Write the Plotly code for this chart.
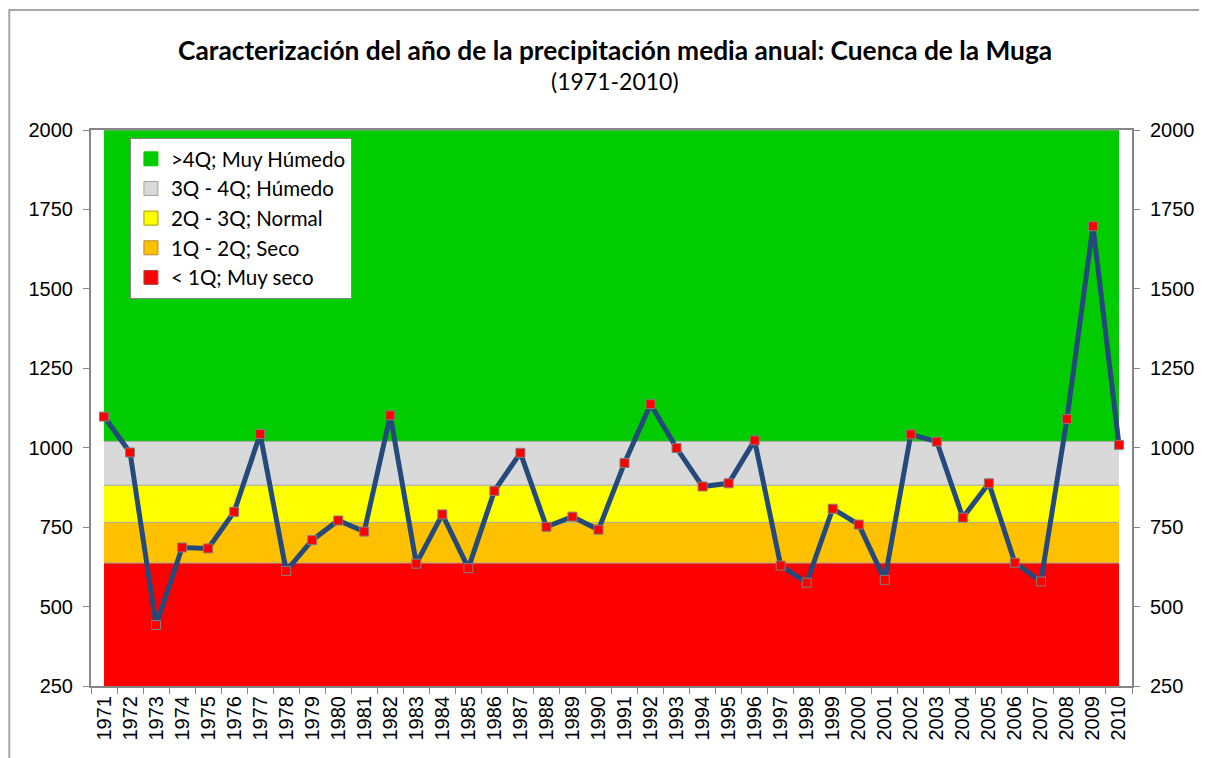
import plotly.graph_objects as go

years = [str(y) for y in range(1971, 2011)]
precip = [1098, 985, 442, 686, 683, 798, 1043, 612, 709, 771,
          736, 1102, 635, 790, 621, 864, 984, 751, 783, 742,
          952, 1137, 999, 878, 888, 1023, 629, 575, 808, 758,
          584, 1042, 1019, 780, 888, 638, 579, 1090, 1697, 1009]

# cuartiles (limites superiores de cada clase)
q1, q2, q3, q4, q_top = 637, 765, 882, 1020, 2000

band_names = ["< 1Q; Muy seco", "1Q - 2Q; Seco", "2Q - 3Q; Normal",
              "3Q - 4Q; Húmedo", ">4Q; Muy Húmedo"]
band_tops = [q1, q2, q3, q4, q_top]
band_colors = ["#FF0000", "#FFC000", "#FFFF00", "#D9D9D9", "#00CC00"]
band_edges = ["#A05050", "#B08A30", "#A0A000", "#A0A0A0", "#00CC00"]
y_ticks = [250, 500, 750, 1000, 1250, 1500, 1750, 2000]

title_text = "Caracterización del año de la precipitación media anual: Cuenca de la Muga"
subtitle_text = "(1971-2010)"

FONT_TXT = "Lato"
FONT_NUM = "Liberation Sans, Arial, sans-serif"

fig = go.Figure()

# bandas de clasificacion (areas)
for i, (name, top, col) in enumerate(zip(band_names, band_tops, band_colors)):
    fig.add_trace(go.Scatter(
        x=years, y=[top] * len(years), mode="lines",
        line=dict(color="#A6A6A6", width=1),
        fill="tozeroy" if i == 0 else "tonexty", fillcolor=col,
        showlegend=False, hoverinfo="skip",
    ))

# entradas de leyenda (cuadrados)
for name, col, edge in reversed(list(zip(band_names, band_colors, band_edges))):
    fig.add_trace(go.Scatter(
        x=[None], y=[None], mode="markers", name=name,
        marker=dict(symbol="square", size=14, color=col,
                    line=dict(color=edge, width=1)),
    ))

# precipitacion media anual
fig.add_trace(go.Scatter(
    x=years, y=precip, mode="lines+markers", showlegend=False,
    line=dict(color="#244A7C", width=5),
    marker=dict(symbol="square", size=9, color="#FF0000",
                line=dict(color="#808080", width=1)),
))

# eje derecho
fig.add_trace(go.Scatter(x=[years[0]], y=[None], yaxis="y2",
                         showlegend=False, hoverinfo="skip"))

axis_font = dict(family=FONT_NUM, size=20, color="black")
y_axis_common = dict(
    range=[250, 2000], tickvals=y_ticks,
    ticks="outside", ticklen=6, tickcolor="#868686",
    showline=True, linecolor="#868686", linewidth=2,
    showgrid=False, zeroline=False, tickfont=axis_font,
    ticklabelstandoff=6,
)

fig.update_layout(
    width=1199, height=750,
    margin=dict(l=83, r=72, t=122, b=72),
    paper_bgcolor="white", plot_bgcolor="white",
    xaxis=dict(
        type="category", range=[-0.5, 39.5], tickson="boundaries",
        ticks="outside", ticklen=6, tickcolor="#868686",
        showline=True, linecolor="#868686", linewidth=2, mirror=True,
        showgrid=False, tickangle=-90, tickfont=axis_font,
    ),
    yaxis=y_axis_common,
    yaxis2=dict(y_axis_common, overlaying="y", side="right"),
    legend=dict(
        x=0.0374, y=0.9856, xanchor="left", yanchor="top",
        bgcolor="white", bordercolor="#868686", borderwidth=1,
        font=dict(family=FONT_TXT, size=20.5, color="black"),
        traceorder="normal", itemwidth=30,
    ),
    showlegend=True,
)

# titulo y subtitulo
fig.add_annotation(text="<b>" + title_text + "</b>", xref="paper", yref="paper",
                   x=0.5035, y=1.1439, xanchor="center", yanchor="middle",
                   showarrow=False, font=dict(family=FONT_TXT, size=26.3, color="black"))
fig.add_annotation(text=subtitle_text, xref="paper", yref="paper",
                   x=0.5035, y=1.0881, xanchor="center", yanchor="middle",
                   showarrow=False, font=dict(family=FONT_TXT, size=23, color="black"))

# marco del grafico
fig.add_shape(type="rect", xref="paper", yref="paper",
              x0=-0.0785, x1=1.2, y0=-0.3, y1=1.2158,
              line=dict(color="#A6A6A6", width=2), fillcolor="rgba(0,0,0,0)",
              layer="below")

fig.write_html("out.html")
